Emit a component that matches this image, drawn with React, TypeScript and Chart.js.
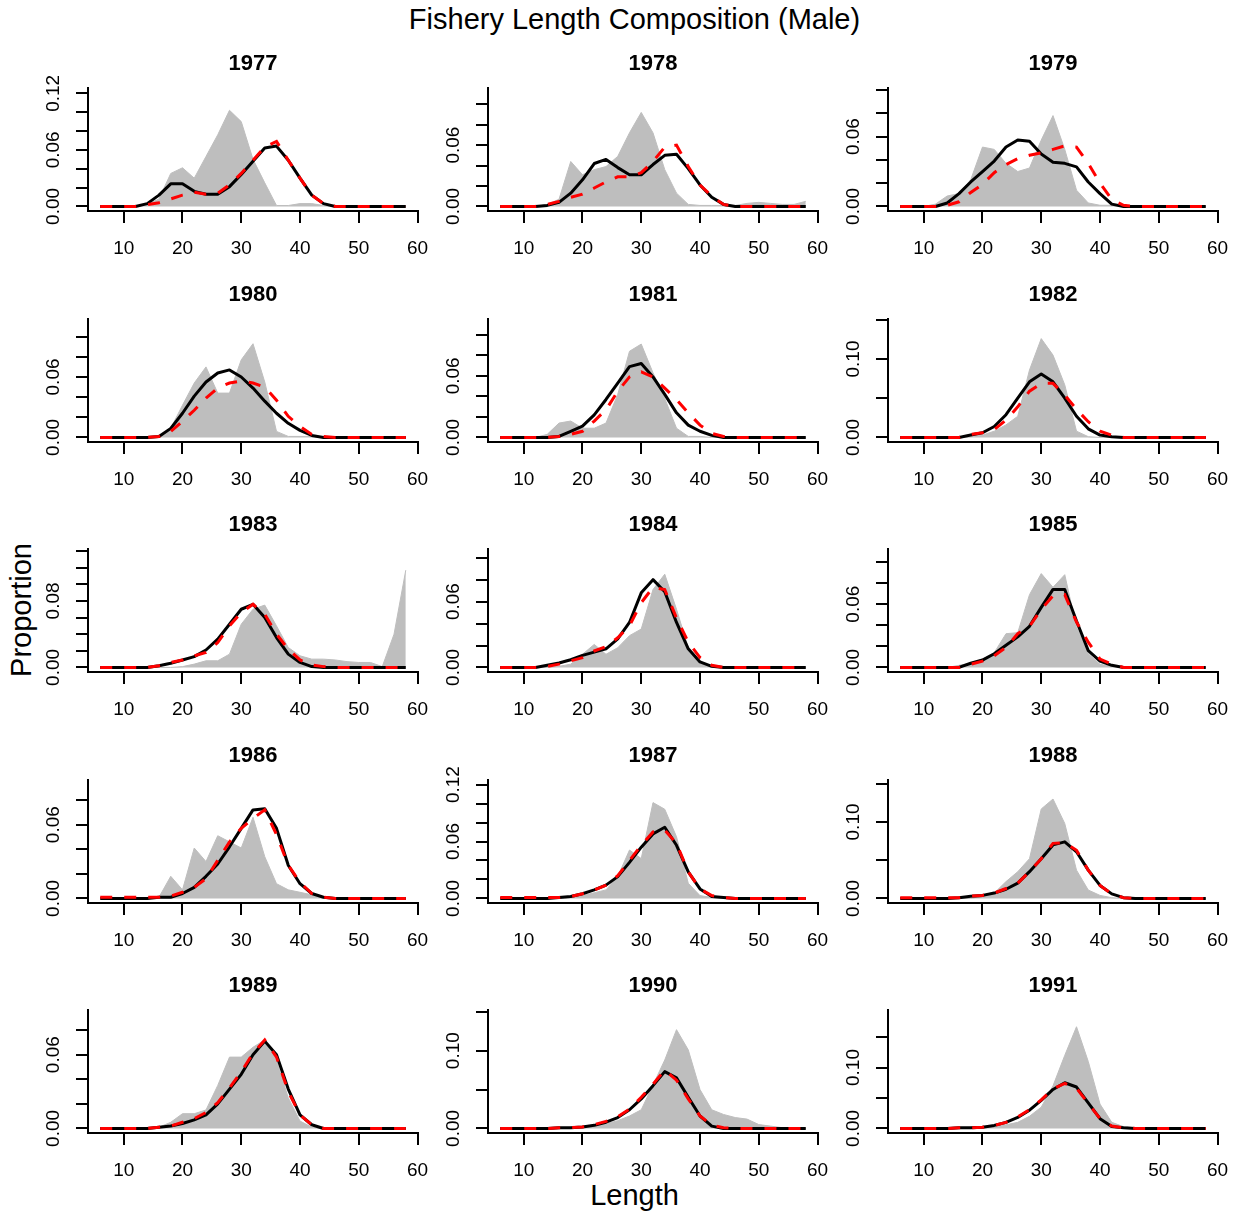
import React, { useEffect, useRef } from "react";
import { Chart, registerables } from "chart.js";

Chart.register(...registerables);

const FONT = "'Liberation Sans', Arial, sans-serif";

// Length bins (cm)
const lengths = [6, 8, 10, 12, 14, 16, 18, 20, 22, 24, 26, 28, 30, 32, 34, 36, 38, 40, 42, 44, 46, 48, 50, 52, 54, 56, 58];
const xTicks = [10, 20, 30, 40, 50, 60];

const years = ["1977", "1978", "1979", "1980", "1981", "1982", "1983", "1984", "1985", "1986", "1987", "1988", "1989", "1990", "1991"];

// observed (grey), expected (black), alternative expected (red dashed)
const obs1977 = [0, 0, 0, 0, 0.002, 0.008, 0.035, 0.041, 0.030, 0.053, 0.076, 0.102, 0.090, 0.050, 0.025, 0.001, 0.001, 0.003, 0.003, 0.001, 0, 0, 0, 0, 0, 0, 0];
const exp1977 = [0, 0, 0, 0, 0.003, 0.012, 0.024, 0.024, 0.016, 0.013, 0.013, 0.021, 0.034, 0.048, 0.062, 0.064, 0.049, 0.030, 0.012, 0.003, 0, 0, 0, 0, 0, 0, 0];
const alt1977 = [0, 0, 0, 0, 0.002, 0.004, 0.008, 0.012, 0.015, 0.013, 0.014, 0.023, 0.035, 0.049, 0.063, 0.069, 0.049, 0.030, 0.012, 0.003, 0, 0, 0, 0, 0, 0, 0];

const obs1978 = [0, 0, 0, 0, 0.002, 0.007, 0.044, 0.031, 0.036, 0.039, 0.049, 0.072, 0.092, 0.072, 0.036, 0.013, 0.002, 0.001, 0.001, 0.001, 0.001, 0.003, 0.004, 0.003, 0.002, 0.002, 0.005];
const exp1978 = [0, 0, 0, 0, 0.001, 0.004, 0.013, 0.026, 0.042, 0.046, 0.038, 0.031, 0.031, 0.041, 0.050, 0.051, 0.037, 0.021, 0.009, 0.002, 0, 0, 0, 0, 0, 0, 0];
const alt1978 = [0, 0, 0, 0, 0.002, 0.005, 0.009, 0.012, 0.018, 0.024, 0.029, 0.029, 0.033, 0.044, 0.058, 0.060, 0.039, 0.021, 0.010, 0.002, 0, 0, 0, 0, 0, 0, 0];

const obs1979 = [0, 0, 0, 0.002, 0.009, 0.011, 0.023, 0.051, 0.049, 0.037, 0.030, 0.033, 0.057, 0.078, 0.049, 0.014, 0.003, 0.001, 0.001, 0, 0, 0, 0, 0, 0, 0, 0];
const exp1979 = [0, 0, 0, 0, 0.003, 0.011, 0.021, 0.030, 0.039, 0.051, 0.057, 0.056, 0.045, 0.038, 0.037, 0.034, 0.021, 0.011, 0.002, 0, 0, 0, 0, 0, 0, 0, 0];
const alt1979 = [0, 0, 0, 0, 0.001, 0.004, 0.012, 0.019, 0.029, 0.036, 0.041, 0.044, 0.046, 0.049, 0.052, 0.051, 0.037, 0.020, 0.006, 0.001, 0, 0, 0, 0, 0, 0, 0];

const obs1980 = [0, 0, 0, 0, 0, 0.001, 0.009, 0.032, 0.054, 0.070, 0.044, 0.044, 0.077, 0.093, 0.055, 0.006, 0.001, 0.001, 0.001, 0, 0, 0, 0, 0, 0, 0, 0];
const exp1980 = [0, 0, 0, 0, 0, 0.001, 0.009, 0.024, 0.041, 0.055, 0.064, 0.067, 0.060, 0.049, 0.036, 0.024, 0.014, 0.007, 0.002, 0, 0, 0, 0, 0, 0, 0, 0];
const alt1980 = [0, 0, 0, 0, 0, 0.001, 0.006, 0.016, 0.027, 0.039, 0.049, 0.054, 0.056, 0.054, 0.050, 0.037, 0.021, 0.011, 0.003, 0.001, 0, 0, 0, 0, 0, 0, 0];

const obs1981 = [0, 0, 0, 0, 0.003, 0.014, 0.016, 0.009, 0.009, 0.014, 0.042, 0.084, 0.091, 0.063, 0.038, 0.009, 0.001, 0.001, 0, 0, 0, 0, 0, 0, 0, 0, 0];
const exp1981 = [0, 0, 0, 0, 0, 0.001, 0.006, 0.011, 0.022, 0.037, 0.053, 0.069, 0.072, 0.059, 0.042, 0.024, 0.012, 0.006, 0.002, 0, 0, 0, 0, 0, 0, 0, 0];
const alt1981 = [0, 0, 0, 0, 0, 0.001, 0.003, 0.006, 0.016, 0.027, 0.045, 0.059, 0.064, 0.059, 0.048, 0.037, 0.024, 0.012, 0.004, 0.001, 0, 0, 0, 0, 0, 0, 0];

const obs1982 = [0, 0, 0, 0, 0, 0, 0.001, 0.003, 0.008, 0.016, 0.027, 0.086, 0.126, 0.105, 0.067, 0.008, 0.001, 0, 0, 0, 0, 0, 0, 0, 0, 0, 0];
const exp1982 = [0, 0, 0, 0, 0, 0, 0.003, 0.006, 0.014, 0.029, 0.050, 0.071, 0.081, 0.071, 0.050, 0.027, 0.011, 0.003, 0.001, 0, 0, 0, 0, 0, 0, 0, 0];
const alt1982 = [0, 0, 0, 0, 0, 0, 0.004, 0.006, 0.010, 0.022, 0.039, 0.059, 0.069, 0.069, 0.054, 0.036, 0.020, 0.008, 0.003, 0, 0, 0, 0, 0, 0, 0, 0];

const obs1983 = [0, 0, 0, 0, 0, 0, 0, 0.001, 0.004, 0.008, 0.008, 0.016, 0.052, 0.070, 0.075, 0.050, 0.024, 0.014, 0.010, 0.010, 0.009, 0.007, 0.006, 0.006, 0.001, 0.040, 0.117];
const exp1983 = [0, 0, 0, 0, 0, 0.002, 0.005, 0.009, 0.013, 0.021, 0.034, 0.052, 0.070, 0.076, 0.060, 0.036, 0.016, 0.006, 0.001, 0, 0, 0, 0, 0, 0, 0, 0];
const alt1983 = [0, 0, 0, 0, 0, 0.002, 0.006, 0.009, 0.014, 0.018, 0.030, 0.050, 0.066, 0.076, 0.064, 0.040, 0.022, 0.009, 0.003, 0.001, 0, 0, 0, 0, 0, 0, 0];

const obs1984 = [0, 0, 0, 0, 0, 0.001, 0.003, 0.012, 0.021, 0.012, 0.018, 0.029, 0.035, 0.071, 0.085, 0.053, 0.018, 0.005, 0.001, 0, 0, 0, 0, 0, 0, 0, 0];
const exp1984 = [0, 0, 0, 0, 0.002, 0.004, 0.007, 0.011, 0.014, 0.017, 0.026, 0.041, 0.068, 0.080, 0.069, 0.041, 0.017, 0.005, 0.001, 0, 0, 0, 0, 0, 0, 0, 0];
const alt1984 = [0, 0, 0, 0, 0.001, 0.003, 0.006, 0.009, 0.015, 0.019, 0.027, 0.038, 0.059, 0.073, 0.071, 0.045, 0.023, 0.009, 0.002, 0, 0, 0, 0, 0, 0, 0, 0];

const obs1985 = [0, 0, 0, 0, 0, 0.002, 0.004, 0.008, 0.014, 0.032, 0.033, 0.069, 0.089, 0.076, 0.088, 0.038, 0.013, 0.003, 0.001, 0, 0, 0, 0, 0, 0, 0, 0];
const exp1985 = [0, 0, 0, 0, 0, 0, 0.004, 0.007, 0.013, 0.021, 0.029, 0.039, 0.057, 0.074, 0.074, 0.044, 0.016, 0.006, 0.002, 0, 0, 0, 0, 0, 0, 0, 0];
const alt1985 = [0, 0, 0, 0, 0, 0, 0.003, 0.006, 0.011, 0.019, 0.032, 0.039, 0.055, 0.068, 0.069, 0.043, 0.024, 0.008, 0.003, 0, 0, 0, 0, 0, 0, 0, 0];

const obs1986 = [0, 0, 0, 0, 0, 0.001, 0.018, 0.007, 0.041, 0.030, 0.051, 0.046, 0.041, 0.066, 0.034, 0.012, 0.007, 0.005, 0.003, 0.001, 0, 0, 0, 0, 0, 0, 0];
const exp1986 = [0, 0, 0, 0, 0, 0.001, 0.001, 0.004, 0.009, 0.018, 0.028, 0.042, 0.057, 0.072, 0.073, 0.057, 0.027, 0.012, 0.004, 0.001, 0, 0, 0, 0, 0, 0, 0];
const alt1986 = [0.001, 0.001, 0.001, 0.001, 0.001, 0.001, 0.002, 0.005, 0.009, 0.016, 0.031, 0.046, 0.057, 0.065, 0.072, 0.052, 0.027, 0.013, 0.004, 0.001, 0, 0, 0, 0, 0, 0, 0];

const obs1987 = [0, 0, 0, 0, 0, 0, 0.001, 0.003, 0.006, 0.009, 0.023, 0.051, 0.042, 0.101, 0.094, 0.065, 0.016, 0.003, 0.001, 0, 0, 0, 0, 0, 0, 0, 0];
const exp1987 = [0, 0, 0, 0, 0, 0.001, 0.002, 0.005, 0.009, 0.014, 0.023, 0.038, 0.054, 0.068, 0.075, 0.056, 0.028, 0.010, 0.002, 0.001, 0, 0, 0, 0, 0, 0, 0];
const alt1987 = [0.001, 0.001, 0.001, 0.001, 0.001, 0.001, 0.002, 0.005, 0.009, 0.014, 0.024, 0.040, 0.056, 0.070, 0.072, 0.058, 0.028, 0.010, 0.003, 0.001, 0, 0, 0, 0, 0, 0, 0];

const obs1988 = [0, 0, 0, 0, 0, 0, 0, 0.003, 0.007, 0.022, 0.035, 0.052, 0.117, 0.130, 0.098, 0.037, 0.011, 0.004, 0.001, 0, 0, 0, 0, 0, 0, 0, 0];
const exp1988 = [0, 0, 0, 0, 0, 0.001, 0.003, 0.004, 0.007, 0.012, 0.020, 0.035, 0.052, 0.070, 0.074, 0.061, 0.037, 0.017, 0.006, 0.001, 0, 0, 0, 0, 0, 0, 0];
const alt1988 = [0.001, 0.001, 0.001, 0.001, 0.001, 0.001, 0.003, 0.004, 0.007, 0.013, 0.020, 0.035, 0.052, 0.072, 0.073, 0.063, 0.037, 0.017, 0.006, 0.001, 0, 0, 0, 0, 0, 0, 0];

const obs1989 = [0, 0, 0, 0, 0, 0.001, 0.005, 0.012, 0.012, 0.015, 0.035, 0.058, 0.058, 0.066, 0.072, 0.055, 0.025, 0.006, 0.001, 0, 0, 0, 0, 0, 0, 0, 0];
const exp1989 = [0, 0, 0, 0, 0, 0.001, 0.002, 0.004, 0.007, 0.011, 0.020, 0.032, 0.044, 0.060, 0.071, 0.060, 0.032, 0.011, 0.003, 0, 0, 0, 0, 0, 0, 0, 0];
const alt1989 = [0, 0, 0, 0, 0, 0.001, 0.002, 0.005, 0.008, 0.013, 0.021, 0.033, 0.046, 0.061, 0.072, 0.058, 0.030, 0.011, 0.003, 0, 0, 0, 0, 0, 0, 0, 0];

const obs1990 = [0, 0, 0, 0, 0, 0, 0.001, 0.002, 0.004, 0.006, 0.010, 0.016, 0.024, 0.056, 0.088, 0.127, 0.101, 0.050, 0.024, 0.018, 0.014, 0.012, 0.005, 0.003, 0.001, 0.001, 0];
const exp1990 = [0, 0, 0, 0, 0, 0.001, 0.001, 0.002, 0.004, 0.008, 0.014, 0.024, 0.038, 0.055, 0.073, 0.065, 0.040, 0.016, 0.003, 0, 0, 0, 0, 0, 0, 0, 0];
const alt1990 = [0, 0, 0, 0, 0, 0.001, 0.001, 0.002, 0.005, 0.009, 0.015, 0.025, 0.040, 0.057, 0.075, 0.062, 0.038, 0.016, 0.004, 0.001, 0, 0, 0, 0, 0, 0, 0];

const obs1991 = [0, 0, 0, 0, 0, 0, 0.001, 0.002, 0.004, 0.006, 0.010, 0.020, 0.035, 0.070, 0.120, 0.167, 0.110, 0.040, 0.010, 0.003, 0.001, 0, 0, 0, 0, 0, 0];
const exp1991 = [0, 0, 0, 0, 0, 0.001, 0.001, 0.002, 0.005, 0.010, 0.018, 0.030, 0.046, 0.064, 0.075, 0.068, 0.042, 0.016, 0.003, 0.001, 0, 0, 0, 0, 0, 0, 0];
const alt1991 = [0, 0, 0, 0, 0, 0.001, 0.001, 0.002, 0.005, 0.010, 0.019, 0.031, 0.047, 0.065, 0.074, 0.066, 0.041, 0.016, 0.004, 0.001, 0, 0, 0, 0, 0, 0, 0];

// y-axis upper limit (before the 4% R-style expansion) for each panel
const yLimits = [0.1208, 0.1114, 0.0978, 0.113, 0.111, 0.1452, 0.137, 0.1038, 0.108, 0.0926, 0.12, 0.1489, 0.0926, 0.1464, 0.187];
const yTicks02 = [0, 0.02, 0.04, 0.06, 0.08, 0.1, 0.12, 0.14];
const yTicks05 = [0, 0.05, 0.1, 0.15];
const yLabels02a = [0, 0.06, 0.12];
const yLabels02b = [0, 0.08];
const yLabels05 = [0, 0.1];
const yTickKind = ["a", "a", "a", "a", "a", "c", "b", "a", "a", "a", "a", "c", "a", "c", "c"];

const observed = [obs1977, obs1978, obs1979, obs1980, obs1981, obs1982, obs1983, obs1984, obs1985, obs1986, obs1987, obs1988, obs1989, obs1990, obs1991];
const expected = [exp1977, exp1978, exp1979, exp1980, exp1981, exp1982, exp1983, exp1984, exp1985, exp1986, exp1987, exp1988, exp1989, exp1990, exp1991];
const alternative = [alt1977, alt1978, alt1979, alt1980, alt1981, alt1982, alt1983, alt1984, alt1985, alt1986, alt1987, alt1988, alt1989, alt1990, alt1991];

// layout
const ROW_TOPS = [88, 319, 549, 780, 1010];
const COL_LEFTS = [88, 488, 888];
const PLOT_H = 123;
const TOP_SPACE = 48;
const Y_AXIS_W = 50;
const X_AXIS_H = 56;
const RIGHT_PAD = 26;
const PLOT_W = 330;

function Panel({ idx }: { idx: number }) {
  const ref = useRef<HTMLCanvasElement | null>(null);
  useEffect(() => {
    if (!ref.current) return;
    const lim = yLimits[idx];
    const kind = yTickKind[idx];
    const yMin = -0.04 * lim;
    const yMax = 1.04 * lim;
    const tickSet = (kind === "c" ? yTicks05 : yTicks02).filter((v) => v <= yMax + 1e-9);
    const labelSet = kind === "a" ? yLabels02a : kind === "b" ? yLabels02b : yLabels05;
    const toPts = (arr: number[]) => lengths.map((x, i) => ({ x, y: arr[i] }));
    const chart = new Chart(ref.current, {
      type: "line",
      data: {
        datasets: [
          {
            label: "alt",
            data: toPts(alternative[idx]),
            borderColor: "#ff0000",
            borderWidth: 3,
            borderDash: [12, 12],
            pointRadius: 0,
            fill: false,
            tension: 0,
            order: 0,
          },
          {
            label: "exp",
            data: toPts(expected[idx]),
            borderColor: "#000000",
            borderWidth: 3,
            borderJoinStyle: "round",
            pointRadius: 0,
            fill: false,
            tension: 0,
            order: 1,
          },
          {
            label: "obs",
            data: toPts(observed[idx]),
            borderColor: "#bebebe",
            borderWidth: 1,
            backgroundColor: "#bebebe",
            pointRadius: 0,
            fill: "origin",
            tension: 0,
            order: 2,
          },
        ],
      },
      options: {
        animation: false,
        responsive: false,
        maintainAspectRatio: false,
        events: [],
        layout: { padding: { left: 0, right: RIGHT_PAD, top: 0, bottom: 0 } },
        plugins: {
          legend: { display: false },
          tooltip: { enabled: false },
          title: {
            display: true,
            text: years[idx],
            color: "#000",
            fullSize: false,
            font: { family: FONT, size: 22, weight: "bold", lineHeight: 26 / 22 },
            padding: { top: 11, bottom: 11 },
          },
        },
        scales: {
          x: {
            type: "linear",
            min: 3.92,
            max: 60.08,
            afterBuildTicks: (s: any) => {
              s.ticks = xTicks.map((v) => ({ value: v }));
            },
            afterFit: (s: any) => {
              s.height = X_AXIS_H;
            },
            grid: { drawOnChartArea: false, drawTicks: true, tickLength: 12, color: "#000", lineWidth: 2 },
            border: { display: true, color: "#000", width: 2 },
            ticks: {
              autoSkip: false,
              maxRotation: 0,
              minRotation: 0,
              padding: 14,
              color: "#000",
              font: { family: FONT, size: 19 },
              callback: (v: any) => String(v),
            },
          },
          y: {
            type: "linear",
            min: yMin,
            max: yMax,
            afterBuildTicks: (s: any) => {
              s.ticks = tickSet.map((v) => ({ value: v }));
            },
            afterFit: (s: any) => {
              s.width = Y_AXIS_W;
            },
            grid: { drawOnChartArea: false, drawTicks: true, tickLength: 12, color: "#000", lineWidth: 2 },
            border: { display: true, color: "#000", width: 2 },
            ticks: {
              autoSkip: false,
              minRotation: 90,
              maxRotation: 90,
              crossAlign: "center",
              padding: 4,
              color: "#000",
              font: { family: FONT, size: 19 },
              callback: (v: any) =>
                labelSet.some((l) => Math.abs(l - Number(v)) < 1e-9) ? Number(v).toFixed(2) : "",
            },
          },
        },
      },
    } as any);
    return () => chart.destroy();
  }, [idx]);

  const r = Math.floor(idx / 3);
  const c = idx % 3;
  const w = Y_AXIS_W + PLOT_W + RIGHT_PAD;
  const h = TOP_SPACE + PLOT_H + X_AXIS_H;
  return (
    <canvas
      ref={ref}
      width={w}
      height={h}
      style={{
        position: "absolute",
        left: COL_LEFTS[c] - Y_AXIS_W,
        top: ROW_TOPS[r] - TOP_SPACE,
        width: w,
        height: h,
      }}
    />
  );
}

export default function App() {
  return (
    <div
      style={{
        position: "absolute",
        left: 0,
        top: 0,
        width: 1237,
        height: 1216,
        background: "#ffffff",
        overflow: "hidden",
        fontFamily: FONT,
        color: "#000",
      }}
    >
      <div
        style={{
          position: "absolute",
          left: 634.5,
          top: 5,
          transform: "translateX(-50%)",
          fontSize: 29,
          lineHeight: 1,
          whiteSpace: "nowrap",
        }}
      >
        Fishery Length Composition (Male)
      </div>
      <div
        style={{
          position: "absolute",
          left: 634.5,
          top: 1181,
          transform: "translateX(-50%)",
          fontSize: 29,
          lineHeight: 1,
          whiteSpace: "nowrap",
        }}
      >
        Length
      </div>
      <div
        style={{
          position: "absolute",
          left: 21,
          top: 610,
          transform: "translate(-50%, -50%) rotate(-90deg)",
          fontSize: 29,
          lineHeight: 1,
          whiteSpace: "nowrap",
        }}
      >
        Proportion
      </div>
      {years.map((y, i) => (
        <Panel key={y} idx={i} />
      ))}
    </div>
  );
}
